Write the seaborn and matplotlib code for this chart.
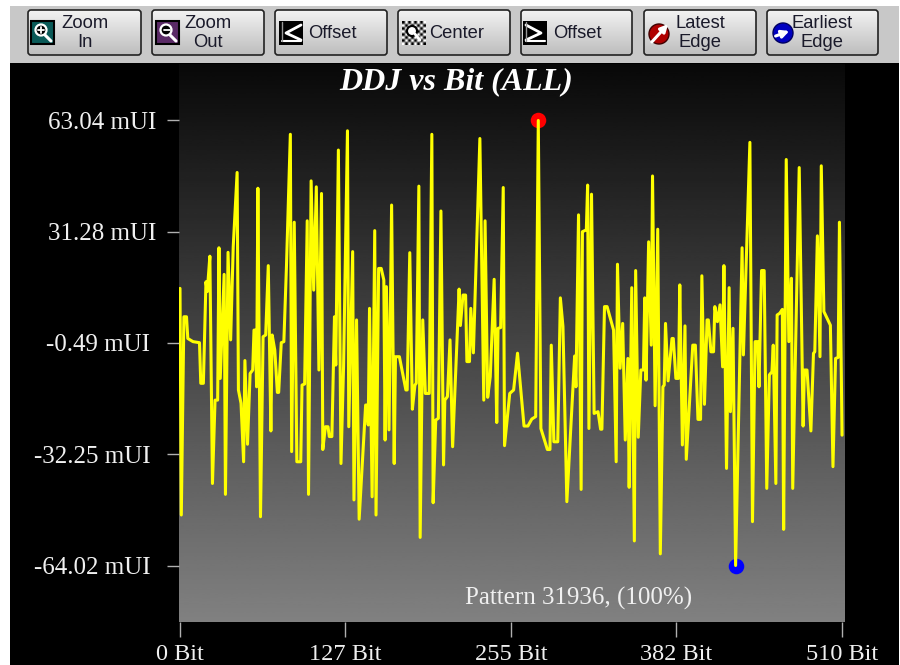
import numpy as np
import pandas as pd
import matplotlib
matplotlib.use("Agg")
import matplotlib.pyplot as plt
from matplotlib.patches import FancyBboxPatch, Rectangle, Circle
from matplotlib.transforms import ScaledTranslation
import seaborn as sns

bits_a = [0,1,3,5,6,10,15,16,18,20,21,23,25,27,29,30,31,34,35,37,39,41,44,45,47,49,50,52,54,56,57,58,59,60,62,64,66,68,70,71,73,75,76,78,80,82,85,86,88,90,93,94,96,98,99,101,103,105,107,109,110,112,114,115,117,119,120,122,124,126,129,130,133,134,136,138,143,144,145,146,148,150,151,153,155,157,158,159,161,163,165,166,169,174,175,177,179,181,182,184,185,187,189,192,194,195,197,199,201,203,204,206,208,210,215,216,218,220,221,223,224,226,231,234,235,237,239,242,244,245,247,249,250,254]
ddj_a = [15.1,-49.6,7.0,7.0,0.8,-0.1,-0.4,-12.0,-12.0,17.0,14.2,24.3,-40.6,-16.8,-16.8,26.7,-10.6,19.1,-43.7,25.4,0.4,27.0,48.2,-13.9,-17.7,-34.4,-5.5,-29.4,-9.2,-8.2,3.2,3.2,-13.0,43.7,-50.1,1.3,1.8,21.6,-25.6,1.8,-2.5,-14.6,-14.6,-0.4,-0.1,21.3,59.1,-31.5,34.0,-34.4,-34.4,-12.5,-12.2,34.4,-43.7,45.8,14.6,44.1,-8.2,42.2,-30.9,-24.4,-24.4,-27.2,-27.2,7.0,-6.8,54.6,-34.9,-7.3,60.1,-24.4,25.6,-45.3,6.1,-50.8,-18.2,-18.2,-23.9,9.4,-44.4,31.6,-49.6,20.8,20.8,17.5,-28.2,15.6,-25.3,38.9,-34.9,-4.4,-4.4,-13.9,-13.9,25.3,-19.4,-12.5,-12.0,44.3,-56.0,6.1,-14.9,-14.9,59.1,-46.1,-22.5,-22.0,37.2,-35.3,-16.8,-15.8,0.4,-30.1,14.9,4.5,13.2,13.2,-5.8,-5.8,9.4,-3.3,57.9,-16.8,34.4,-16.0,-10.1,17.7,-23.2,3.7,3.9,43.9,-29.8,-14.9]
bits_b = [257,260,265,268,271,274,276,278,283,285,286,288,291,293,295,298,304,305,307,309,310,313,314,315,317,319,322,324,325,327,329,334,336,337,339,341,343,345,346,348,350,351,353,355,357,358,359,361,363,364,366,368,370,372,373,374,376,379,380,382,384,385,387,389,390,395,397,399,401,402,404,406,407,409,411,412,414,416,418,419,421,423,424,426,428,433,434,439,441,443,445,446,448,450,452,454,456,457,459,460,462,464,465,467,469,471,472,477,480,481,483,486,488,489,491,493,494,496,501,503,505,507,508,510]
ddj_b = [-13.9,-3.4,-24.2,-24.2,-22.2,-21.5,63.04,-24.9,-30.9,-30.9,-1.1,-28.7,-28.7,12.4,4.2,-45.8,-4.2,-13.0,36.1,-42.3,31.3,31.8,44.6,-24.9,42.0,-20.6,-20.1,-25.1,-25.1,9.9,9.9,3.2,-34.4,22.0,-7.7,5.1,-28.2,-4.9,-41.7,15.3,-57.0,20.2,-27.4,-8.2,-8.2,12.4,-11.1,28.4,-1.1,47.2,-18.4,32.0,-60.7,-13.0,-12.5,5.1,-11.3,0.8,0.8,-10.6,-10.6,16.1,-29.6,4.4,-33.7,-1.1,-1.1,-22.3,-22.3,18.7,-18.0,6.1,6.1,-3.0,-3.0,9.9,5.6,10.4,-7.3,21.6,-36.3,15.3,-20.1,3.7,-64.02,26.7,-3.9,56.8,-51.5,-0.1,-0.1,-13.0,20.2,20.2,-42.0,-9.6,-8.7,-1.1,-40.6,7.5,8.0,9.1,-53.7,51.9,-0.1,18.0,-42.0,49.6,-24.2,-8.2,-8.2,-25.6,-3.4,-3.0,30.1,-4.4,50.1,8.5,4.6,-35.8,-4.9,-4.6,34.0,-26.8]
peak_bit, peak_val = [276], [63.04]
low_bit, low_val = [428], [-64.02]
x_ticks = [0, 127, 255, 382, 510]
x_labels = ["0 Bit", "127 Bit", "255 Bit", "382 Bit", "510 Bit"]
y_ticks = [63.04, 31.28, -0.49, -32.25, -64.02]
y_labels = ["63.04 mUI", "31.28 mUI", "-0.49 mUI", "-32.25 mUI", "-64.02 mUI"]
buttons = [("Zoom\nIn", 28, 141), ("Zoom\nOut", 152, 264), ("Offset", 275, 387), ("Center", 398, 510),
           ("Offset", 521, 632), ("Latest\nEdge", 644, 756), ("Earliest\nEdge", 767, 878)]

W, H = 900, 665
sns.set_theme(style="white")
plt.rcParams["font.family"] = ["Liberation Serif", "DejaVu Serif"]
fig = plt.figure(figsize=(9, 6.65), dpi=100, facecolor="white")

# pixel-space chrome layer
bg = fig.add_axes([0, 0, 1, 1], zorder=0)
bg.set_xlim(0, W); bg.set_ylim(H, 0); bg.axis("off")
bg.add_patch(Rectangle((10, 6), 889, H - 6, fc="black", ec="none"))
bg.add_patch(Rectangle((10, 6), 889, 57, fc="#c8c8c8", ec="none"))
ramp = np.linspace(0.95, 0.74, 64).reshape(-1, 1)
for label, x0, x1 in buttons:
    patch = FancyBboxPatch((x0 + 2, 12), x1 - x0 - 4, 41, boxstyle="round,pad=2,rounding_size=3",
                           fc="none", ec="#222222", lw=1.2, zorder=3)
    bg.add_patch(patch)
    im = bg.imshow(ramp, cmap="gray", vmin=0, vmax=1, extent=(x0, x1, 55, 10), aspect="auto", zorder=2)
    im.set_clip_path(patch)
    tx = {"Center": 457, "Offset": (x0 + x1) / 2 + 1}.get(label, (x0 + x1) / 2)
    bg.text(tx, 33, label, ha="center", va="center", fontsize=13.2, color="#1a1a2a",
            family=["Liberation Sans"], linespacing=1.2, zorder=4)
bg.set_xlim(0, W); bg.set_ylim(H, 0)

def lens(cx, cy, tint):
    bg.add_patch(Rectangle((cx - 11, cy - 11), 23, 23, fc=tint, ec="black", lw=1.5, zorder=5))
    bg.add_patch(Circle((cx - 1, cy - 2), 5.5, fc="black", ec="white", lw=1.6, zorder=6))
    bg.plot([cx + 3, cx + 9], [cy + 3, cy + 9], color="white", lw=2.2, zorder=6)
lens(42, 32, "#0a5a58")
bg.plot([38, 44], [30, 30], color="white", lw=1.3, zorder=7)
bg.plot([41, 41], [27, 33], color="white", lw=1.3, zorder=7)
lens(167, 32, "#5a2a66")
bg.plot([164, 170], [30, 30], color="white", lw=1.3, zorder=7)

for cx, pts in ((291, [(301, 25), (286, 33), (301, 40)]), (535, [(526, 25), (541, 33), (526, 40)])):
    bg.add_patch(Rectangle((cx - 12, 21), 24, 24, fc="black", ec="none", zorder=5))
    bg.plot(*zip(*pts), color="white", lw=2, zorder=6)
    bg.plot([cx - 9, cx + 10], [41, 41], color="white", lw=1.5, zorder=6)
    bg.plot([cx - 9, cx - 9], [22, 41], color="#999999", lw=1, zorder=6)

check = np.indices((8, 8)).sum(axis=0) % 2
bg.imshow(check, cmap="gray", vmin=0, vmax=1, extent=(402, 426, 45, 21), aspect="auto", zorder=5)
bg.add_patch(Circle((412, 31), 5, fc="white", ec="black", lw=1.5, zorder=6))
bg.plot([415, 420], [34, 40], color="white", lw=2, zorder=6)
bg.set_xlim(0, W); bg.set_ylim(H, 0)

for cx, cy, col, x_a, y_a, x_b, y_b in ((659, 34, "#b00000", 650, 44, 670, 22), (783, 33, "#0000c0", 773, 37, 792, 30)):
    bg.add_patch(Circle((cx, cy), 10, fc=col, ec="#400000" if col == "#b00000" else "#000060", lw=1, zorder=5))
    bg.annotate("", xy=(x_b, y_b), xytext=(x_a, y_a), zorder=6,
                arrowprops=dict(arrowstyle="-|>", color="white", lw=2.2, mutation_scale=11))

# plot
L, R, T, B = 178.5, 844.0, 64.0, 622.0
ax = fig.add_axes([L / W, 1 - B / H, (R - L) / W, (B - T) / H], zorder=1)
x0_lim, x1_lim = -1.16, 511.5
y0_lim, y1_lim = -80.15, 79.17
shade = np.linspace(0.035, 0.505, 256).reshape(-1, 1)
ax.imshow(shade, cmap="gray", vmin=0, vmax=1, extent=(x0_lim, x1_lim, y0_lim, y1_lim), aspect="auto", zorder=0)

df = pd.DataFrame({"bit": bits_a + bits_b, "ddj": ddj_a + ddj_b})
sns.lineplot(data=df, x="bit", y="ddj", ax=ax, color="#ffff00", linewidth=2.2, sort=False, estimator=None, zorder=3)
sns.scatterplot(x=peak_bit, y=peak_val, ax=ax, color="#ff0000", s=125, linewidth=0, zorder=2)
sns.scatterplot(x=low_bit, y=low_val, ax=ax, color="#0000ff", s=125, linewidth=0, zorder=2)

ax.set_xlim(x0_lim, x1_lim); ax.set_ylim(y0_lim, y1_lim)
ax.set_xlabel(""); ax.set_ylabel("")
ax.set_xticks(x_ticks, x_labels)
ax.set_yticks(y_ticks, y_labels)
ax.tick_params(axis="x", length=10.5, width=1, color="#b0b0b0", labelcolor="#f0f0f0", labelsize=17.5, pad=5.5, bottom=True)
ax.tick_params(axis="y", length=9, width=1, color="#b0b0b0", labelcolor="#f0f0f0", labelsize=18, pad=7, left=True)
for tl in ax.get_yticklabels()[2:]:
    tl.set_transform(tl.get_transform() + ScaledTranslation(-6 / 100, 0, fig.dpi_scale_trans))
sns.despine(ax=ax, left=True, bottom=True)
ax.grid(False)
ax.set_title("DDJ vs Bit (ALL)", x=0.417, y=0.968, va="center", color="white",
             fontsize=23, fontweight="bold", fontstyle="italic", pad=0)
ax.text(0.601, 0.042, "Pattern 31936, (100%)", transform=ax.transAxes, ha="center", va="center",
        color="#f0f0f0", fontsize=18)

fig.savefig("out.png", dpi=100, facecolor="white")
